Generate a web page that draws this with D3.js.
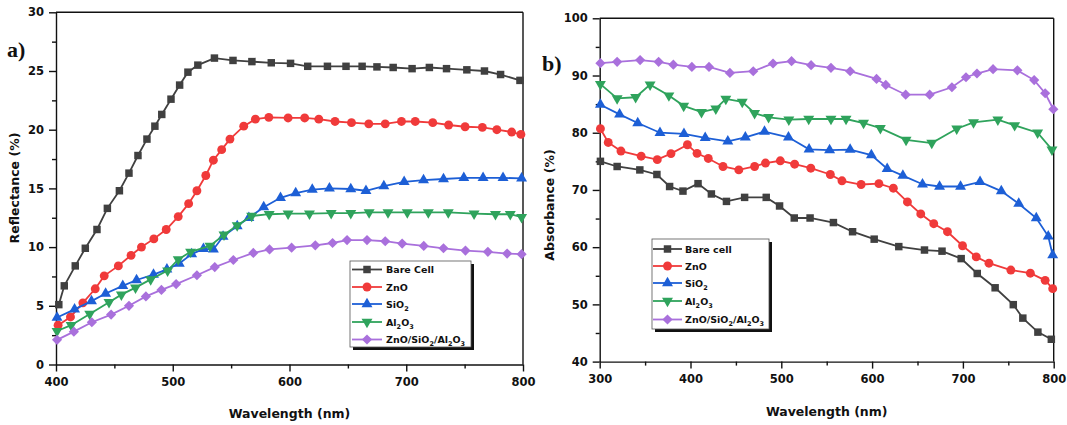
<!DOCTYPE html>
<html>
<head>
<meta charset="utf-8">
<script src="https://cdn.jsdelivr.net/npm/d3@7"></script>
<style>
  html, body { margin: 0; padding: 0; background: #fff; }
  svg { display: block; }
  text { font-family: "DejaVu Sans", sans-serif; font-weight: bold; fill: #111; }
  text.letter { font-family: "Liberation Serif", "DejaVu Serif", serif; }
</style>
</head>
<body>
<svg id="chart" width="1067" height="425"></svg>
<script>
// ---------- (a) Reflectance ----------
const reflBareX = [402.4,407.1,416.5,425.1,435.1,444.0,454.3,462.5,470.2,477.9,484.7,490.6,498.5,505.9,513.0,521.5,535.7,551.6,567.8,584.4,600.9,615.6,632.5,648.4,662.2,674.9,688.8,705.0,719.8,734.5,751.9,767.0,780.8,797.4];
const reflBareY = [5.1,6.7,8.4,9.9,11.5,13.3,14.8,16.3,17.8,19.2,20.3,21.3,22.6,23.8,24.9,25.5,26.1,25.9,25.8,25.7,25.65,25.4,25.4,25.4,25.4,25.35,25.3,25.2,25.3,25.2,25.1,25.0,24.7,24.2];

const reflZnoX = [401.8,412.4,423.0,433.6,441.3,453.4,464.3,473.2,483.8,494.4,504.7,513.6,520.7,528.3,534.8,541.9,549.0,560.8,570.8,582.3,598.8,613.0,625.1,639.0,653.1,667.9,682.0,695.9,707.7,722.7,736.3,750.4,765.2,777.6,790.3,798.2];
const reflZnoY = [3.35,4.05,5.25,6.45,7.55,8.4,9.3,10.0,10.7,11.5,12.6,13.7,14.8,16.1,17.4,18.3,19.2,20.3,20.9,21.05,21.0,21.0,20.9,20.7,20.6,20.5,20.5,20.7,20.7,20.6,20.4,20.25,20.2,20.0,19.8,19.6];

const reflSioX = [400.9,415.9,430.4,442.5,457.2,469.0,483.5,495.0,505.6,516.2,526.3,534.8,543.1,555.2,565.2,577.9,592.3,605.3,619.5,634.2,652.5,665.5,680.8,698.2,714.8,731.9,749.3,765.8,782.9,798.8];
const reflSioY = [4.0,4.7,5.4,6.05,6.7,7.2,7.65,8.1,8.6,9.4,9.85,9.8,10.9,11.8,12.5,13.4,14.2,14.6,14.9,15.0,14.95,14.8,15.2,15.55,15.7,15.8,15.9,15.9,15.9,15.85];

const reflAloX = [400.9,413.0,428.9,445.4,456.0,468.1,481.1,495.6,504.7,515.3,531.9,543.9,555.2,567.6,582.6,598.8,617.1,635.7,652.5,668.2,684.4,700.9,718.9,736.0,758.1,776.4,789.1,798.8];
const reflAloY = [2.85,3.35,4.3,5.3,5.95,6.55,7.25,8.0,8.95,9.6,10.1,11.05,11.85,12.65,12.8,12.85,12.85,12.9,12.9,12.95,12.95,12.95,12.95,12.95,12.85,12.8,12.8,12.55];

const reflMixX = [400.9,415.3,430.7,447.2,462.5,477.0,490.3,502.9,520.7,536.0,551.9,569.0,582.9,601.8,622.1,636.9,649.3,666.4,682.0,696.5,715.0,731.9,750.7,769.9,786.4,798.8];
const reflMixY = [2.1,2.8,3.6,4.25,5.0,5.8,6.35,6.85,7.6,8.3,8.9,9.5,9.8,9.95,10.15,10.35,10.6,10.6,10.5,10.3,10.1,9.9,9.7,9.6,9.45,9.4];

// ---------- (b) Absorbance ----------
const absBareX = [300.8,319.2,344.2,363.0,377.0,391.7,408.3,423.0,439.6,459.6,483.4,498.1,514.3,531.7,557.4,578.5,602.3,629.4,657.7,677.0,698.1,715.8,735.5,755.5,766.0,782.6,797.4];
const absBareY = [75.0,74.1,73.5,72.7,70.6,69.8,71.1,69.3,68.0,68.7,68.7,67.2,65.1,65.1,64.3,62.7,61.4,60.1,59.5,59.3,58.0,55.4,52.9,49.95,47.6,45.15,43.9];

const absZnoX = [300.8,309.4,323.4,345.7,363.4,378.5,396.6,407.2,419.6,435.8,453.2,470.6,482.6,498.9,514.7,532.5,554.0,566.8,587.9,607.5,623.4,638.9,653.6,667.9,683.0,699.6,714.7,728.7,752.8,774.3,790.6,798.9];
const absZnoY = [80.7,78.3,76.8,75.9,75.3,76.35,77.9,76.4,75.5,74.1,73.5,74.1,74.7,75.1,74.5,73.8,72.7,71.6,70.95,71.1,70.3,67.9,65.8,64.1,62.7,60.25,58.3,57.2,56.0,55.45,54.2,52.75];

const absSioX = [300.8,321.9,341.9,366.4,392.8,416.2,441.1,460.4,481.5,507.9,530.6,553.2,575.8,599.2,616.6,633.9,655.5,674.3,697.4,718.9,742.3,761.5,780.8,794.0,798.9];
const absSioY = [84.9,83.2,81.7,80.0,79.8,79.1,78.5,79.2,80.2,79.2,77.1,76.95,77.05,76.1,73.7,72.5,71.0,70.6,70.6,71.4,69.8,67.6,65.1,61.9,58.6];

const absAloX = [300.8,319.2,339.6,355.5,376.2,392.5,412.1,427.9,438.9,457.0,470.6,486.0,508.3,530.2,554.7,571.3,590.6,609.1,637.4,665.7,693.2,711.7,738.5,757.0,782.3,798.1];
const absAloY = [88.5,86.0,86.2,88.4,86.5,84.7,83.6,84.2,85.9,85.4,83.4,82.7,82.3,82.4,82.4,82.4,81.7,80.8,78.75,78.2,80.7,81.8,82.3,81.3,80.0,77.05];

const absMixX = [300.8,319.2,344.5,364.9,381.1,401.5,420.4,443.4,469.1,490.9,511.3,532.8,554.7,575.8,604.9,615.1,637.0,663.4,687.9,703.4,715.5,733.2,760.0,778.5,790.6,799.6];
const absMixY = [92.15,92.4,92.7,92.4,91.9,91.5,91.5,90.45,90.75,92.1,92.5,91.8,91.35,90.75,89.4,88.35,86.65,86.65,87.95,89.7,90.35,91.1,90.9,89.2,86.9,84.1];

// Tick values
const reflXTicks = [400, 500, 600, 700, 800];
const reflXMinor = [450, 550, 650, 750];
const reflYTicks = [0, 5, 10, 15, 20, 25, 30];
const reflYMinor = [2.5, 7.5, 12.5, 17.5, 22.5, 27.5];
const absXTicks = [300, 400, 500, 600, 700, 800];
const absXMinor = [350, 450, 550, 650, 750];
const absYTicks = [40, 50, 60, 70, 80, 90, 100];
const absYMinor = [45, 55, 65, 75, 85, 95];

// Series labels: [main, subscript, main, ...] segments
const reflNames = [["Bare Cell"], ["ZnO"], ["SiO", "2"], ["Al", "2", "O", "3"], ["ZnO/SiO", "2", "/Al", "2", "O", "3"]];
const absNames  = [["Bare cell"], ["ZnO"], ["SiO", "2"], ["Al", "2", "O", "3"], ["ZnO/SiO", "2", "/Al", "2", "O", "3"]];

const seriesColors = ["#404040", "#f03a3a", "#1d5fd6", "#2fa35c", "#a970dc"];
const seriesShapes = ["square", "circle", "triangle", "triangleDown", "diamond"];

const svg = d3.select("#chart");

function markerPath(shape) {
  switch (shape) {
    case "square": return d3.symbol(d3.symbolSquare, 56)();
    case "circle": return d3.symbol(d3.symbolCircle, 62)();
    case "triangle": return d3.symbol(d3.symbolTriangle, 52)();
    case "triangleDown": return d3.symbol(d3.symbolTriangle, 52)();
    case "diamond": return d3.symbol(d3.symbolSquare, 52)();
  }
}
function markerRotate(shape) {
  if (shape === "triangleDown") return " rotate(180)";
  if (shape === "diamond") return " rotate(45)";
  return "";
}

function addSegments(textSel, segs) {
  // alternate normal / subscript segments
  segs.forEach((s, i) => {
    const isSub = i % 2 === 1;
    const t = textSel.append("tspan").text(s);
    if (isSub) t.attr("font-size", "6.5px").attr("dy", 3);
    else if (i > 0) t.attr("dy", -3);
  });
}

function drawPanel(cfg) {
  const g = svg.append("g");
  const x = d3.scaleLinear().domain(cfg.xDomain).range(cfg.xRange);
  const y = d3.scaleLinear().domain(cfg.yDomain).range(cfg.yRange);
  const [x0, x1] = cfg.xRange;
  const [yb, yt] = cfg.yRange;

  // minor ticks
  g.append("g").attr("transform", `translate(0,${yb})`)
    .call(d3.axisBottom(x).tickValues(cfg.xMinor).tickSize(4).tickFormat("").tickSizeOuter(0))
    .call(s => s.select(".domain").remove());
  g.append("g").attr("transform", `translate(${x0},0)`)
    .call(d3.axisLeft(y).tickValues(cfg.yMinor).tickSize(4).tickFormat("").tickSizeOuter(0))
    .call(s => s.select(".domain").remove());

  // major axes
  const ax = g.append("g").attr("transform", `translate(0,${yb})`)
    .call(d3.axisBottom(x).tickValues(cfg.xTicks).tickSize(7).tickPadding(6).tickSizeOuter(0));
  const ay = g.append("g").attr("transform", `translate(${x0},0)`)
    .call(d3.axisLeft(y).tickValues(cfg.yTicks).tickSize(7).tickPadding(5).tickSizeOuter(0));
  [ax, ay].forEach(a => {
    a.selectAll("text").attr("font-size", "11.5px").attr("fill", "#111");
    a.attr("font-size", null).attr("font-family", null);
  });
  g.selectAll(".domain, .tick line").attr("stroke", "#111").attr("stroke-width", 1.4);

  // frame top / right
  g.append("line").attr("x1", x0).attr("x2", x1).attr("y1", yt).attr("y2", yt).attr("stroke", "#111").attr("stroke-width", 1.4);
  g.append("line").attr("x1", x1).attr("x2", x1).attr("y1", yt).attr("y2", yb).attr("stroke", "#111").attr("stroke-width", 1.4);

  // series
  const line = d3.line().x(d => x(d[0])).y(d => y(d[1]));
  cfg.series.forEach((s, i) => {
    const pts = s.x.map((v, k) => [v, s.y[k]]);
    g.append("path").datum(pts).attr("d", line)
      .attr("fill", "none").attr("stroke", seriesColors[i]).attr("stroke-width", 1.8);
    g.append("g").selectAll("path").data(pts).join("path")
      .attr("d", markerPath(seriesShapes[i]))
      .attr("transform", d => `translate(${x(d[0])},${y(d[1])})` + markerRotate(seriesShapes[i]))
      .attr("fill", seriesColors[i]);
  });

  // axis titles
  g.append("text").attr("x", (x0 + x1) / 2).attr("y", cfg.xTitleY)
    .attr("text-anchor", "middle").attr("font-size", "12.5px").text("Wavelength (nm)");
  g.append("text").attr("transform", `translate(${cfg.yTitleX},${cfg.yTitleCY}) rotate(-90)`)
    .attr("text-anchor", "middle").attr("font-size", "12.5px").text(cfg.yTitle);

  // panel letter
  g.append("text").attr("class", "letter").attr("x", cfg.letterX).attr("y", cfg.letterY)
    .attr("font-size", "22px").text(cfg.letter);

  // legend
  const L = cfg.legend;
  const lg = g.append("g");
  lg.append("rect").attr("x", L.x + 3).attr("y", L.y + 3).attr("width", L.w).attr("height", L.h).attr("fill", "#111");
  lg.append("rect").attr("x", L.x).attr("y", L.y).attr("width", L.w).attr("height", L.h)
    .attr("fill", "#fff").attr("stroke", "#555").attr("stroke-width", 0.8);
  cfg.names.forEach((nm, i) => {
    const ry = L.rowY[i];
    lg.append("line").attr("x1", L.lineX0).attr("x2", L.lineX1).attr("y1", ry).attr("y2", ry)
      .attr("stroke", seriesColors[i]).attr("stroke-width", 1.8);
    lg.append("path").attr("d", markerPath(seriesShapes[i]))
      .attr("transform", `translate(${(L.lineX0 + L.lineX1) / 2},${ry})` + markerRotate(seriesShapes[i]))
      .attr("fill", seriesColors[i]);
    const t = lg.append("text").attr("x", L.textX).attr("y", ry + 3.5).attr("font-size", "9.5px");
    addSegments(t, nm);
  });
}

drawPanel({
  xDomain: [400, 800], xRange: [56, 523],
  yDomain: [0, 30], yRange: [364.5, 12.3],
  xTicks: reflXTicks, xMinor: reflXMinor, yTicks: reflYTicks, yMinor: reflYMinor,
  series: [
    { x: reflBareX, y: reflBareY }, { x: reflZnoX, y: reflZnoY }, { x: reflSioX, y: reflSioY },
    { x: reflAloX, y: reflAloY }, { x: reflMixX, y: reflMixY }
  ],
  names: reflNames,
  yTitle: "Reflectance (%)", yTitleX: 19, yTitleCY: 188, xTitleY: 418,
  letter: "a)", letterX: 7, letterY: 57,
  legend: { x: 350, y: 261, w: 121, h: 86, lineX0: 352, lineX1: 382, textX: 386, rowY: [269.5, 287, 304, 322, 339.5] }
});

drawPanel({
  xDomain: [300, 800], xRange: [599.7, 1053.7],
  yDomain: [40, 100], yRange: [361.6, 18.3],
  xTicks: absXTicks, xMinor: absXMinor, yTicks: absYTicks, yMinor: absYMinor,
  series: [
    { x: absBareX, y: absBareY }, { x: absZnoX, y: absZnoY }, { x: absSioX, y: absSioY },
    { x: absAloX, y: absAloY }, { x: absMixX, y: absMixY }
  ],
  names: absNames,
  yTitle: "Absorbance (%)", yTitleX: 554, yTitleCY: 205, xTitleY: 416,
  letter: "b)", letterX: 542, letterY: 71,
  legend: { x: 652, y: 239, w: 117, h: 90, lineX0: 653, lineX1: 682, textX: 685, rowY: [249, 266, 283, 301, 319.5] }
});
</script>
</body>
</html>
